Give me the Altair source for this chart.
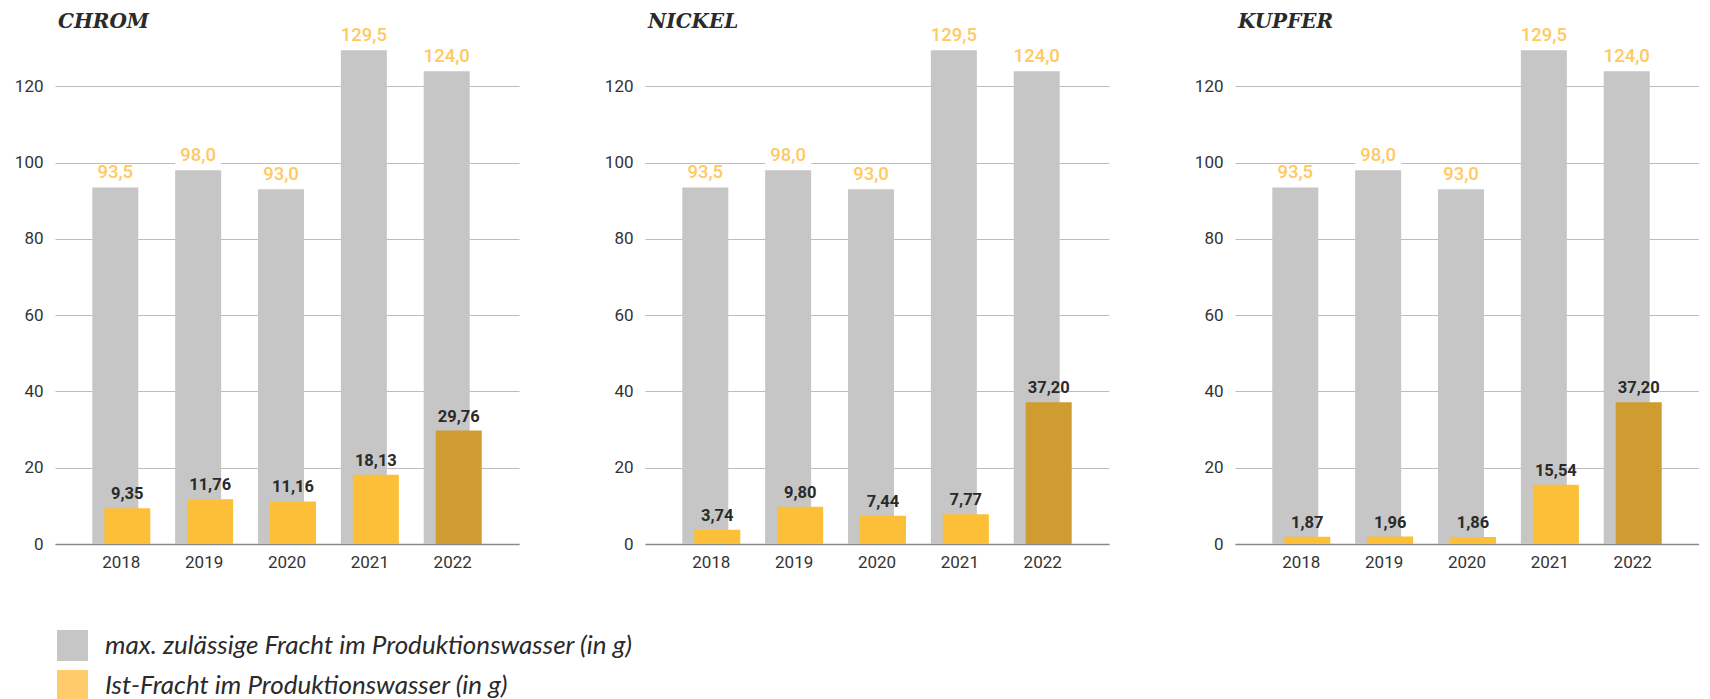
import altair as alt
import pandas as pd

years = ["2018", "2019", "2020", "2021", "2022"]
metals = ["CHROM", "NICKEL", "KUPFER"]
max_fracht = [93.5, 98.0, 93.0, 129.5, 124.0]
ist_chrom = [9.35, 11.76, 11.16, 18.13, 29.76]
ist_nickel = [3.74, 9.80, 7.44, 7.77, 37.20]
ist_kupfer = [1.87, 1.96, 1.86, 15.54, 37.20]
ist_by_metal = {"CHROM": ist_chrom, "NICKEL": ist_nickel, "KUPFER": ist_kupfer}
series = [
    "max. zulässige Fracht im Produktionswasser (in g)",
    "Ist-Fracht im Produktionswasser (in g)",
]
y_ticks = [0, 20, 40, 60, 80, 100, 120]
highlight_year = "2022"

GRAY = "#C6C6C6"
GOLD = "#FDBE38"
DARK_GOLD = "#CF9C31"
LIGHT = "#FFC95E"
LEGEND_GOLD = "#FFCB6B"
TEXT = "#2A2A2A"

BAR_W = 46
OFF = 6


def de(v, d):
    return f"{v:.{d}f}".replace(".", ",")


def panel(metal, show_legend):
    ist = ist_by_metal[metal]
    df = pd.DataFrame({
        "year": years,
        "max": max_fracht,
        "ist": ist,
        "max_label": [de(v, 1) for v in max_fracht],
        "ist_label": [de(v, 2) for v in ist],
        "series": series[0],
    })
    x = alt.X(
        "year:O",
        scale=alt.Scale(type="band", paddingInner=0, paddingOuter=0.3),
        axis=alt.Axis(title=None, labelAngle=0, ticks=False, domainColor="#8A8A8A",
                      domainWidth=1.5, labelFont="Roboto", labelFontSize=17,
                      labelColor="#333333", labelPadding=10, grid=False),
    )
    yscale = alt.Scale(domain=[0, 134], nice=False)
    yaxis = alt.Axis(title=None, values=y_ticks, ticks=False, domain=False,
                     grid=True, gridColor="#BDBDBD", gridWidth=1,
                     labelFont="Roboto", labelFontSize=17, labelColor="#333333",
                     labelPadding=12)
    base = alt.Chart(df).encode(x=x)

    bg = base.transform_calculate(bg_top="datum.max + 5").mark_bar(
        width=BAR_W, xOffset=-OFF, color="white"
    ).encode(y=alt.Y("max:Q", scale=yscale, axis=yaxis), y2="bg_top:Q")

    if show_legend:
        leg = alt.Legend(title=None, orient="none", legendX=2, legendY=597,
                         direction="vertical", symbolType="square", symbolSize=961,
                         symbolStrokeWidth=0, symbolOpacity=1,
                         labelFont="Lato", labelFontStyle="italic", labelFontSize=26,
                         labelColor=TEXT, rowPadding=9, labelOffset=17, labelLimit=900)
        gray_color = alt.Color("series:N",
                               scale=alt.Scale(domain=series, range=[GRAY, LEGEND_GOLD]),
                               legend=leg)
    else:
        gray_color = alt.value(GRAY)
    gray = base.mark_bar(width=BAR_W, xOffset=-OFF).encode(
        y=alt.Y("max:Q", scale=yscale, axis=yaxis),
        color=gray_color,
    )
    gold = base.mark_bar(width=BAR_W, xOffset=OFF).encode(
        y=alt.Y("ist:Q", scale=yscale, axis=yaxis),
        color=alt.condition(alt.datum.year == highlight_year, alt.value(DARK_GOLD), alt.value(GOLD)),
    )
    gray_lbl = base.mark_text(xOffset=-OFF, dy=-9, baseline="alphabetic", font="Roboto",
                              fontSize=18.5, fontWeight=500, color=LIGHT).encode(
        y=alt.Y("max:Q", scale=yscale, axis=yaxis), text="max_label:N")
    gold_lbl = base.mark_text(xOffset=OFF, dy=-9, baseline="alphabetic", font="Roboto",
                              fontSize=16.5, fontWeight="bold", color=TEXT).encode(
        y=alt.Y("ist:Q", scale=yscale, axis=yaxis), text="ist_label:N")

    return alt.layer(bg, gray, gold, gray_lbl, gold_lbl).properties(
        width=464, height=511,
        title=alt.TitleParams(text=metal, anchor="start", frame="group", dx=3,
                              font="DejaVu Serif", fontStyle="italic", fontWeight="bold",
                              fontSize=20, color=TEXT, offset=-6),
    )


chart = alt.hconcat(
    *[panel(m, i == 0) for i, m in enumerate(metals)], spacing=85
).properties(
    padding={"left": 6, "top": 4, "right": 0, "bottom": 0}
).configure_view(stroke=None)

chart.save("out.html", embed_options={"renderer": "svg", "actions": False})
